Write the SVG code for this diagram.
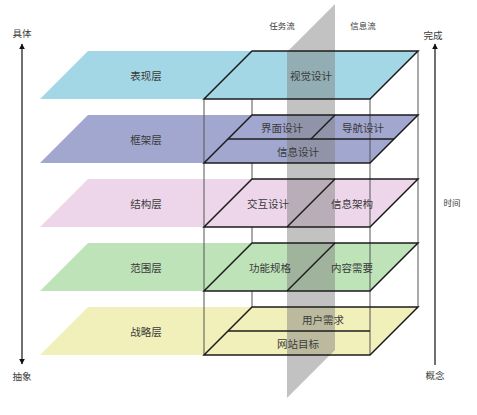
<svg xmlns="http://www.w3.org/2000/svg" width="477" height="415" viewBox="0 0 477 415">
<style>
text{font-family:"Noto Sans CJK SC","Noto Sans",sans-serif;fill:#3a3a3a;text-anchor:middle;dominant-baseline:central;font-size:10.5px}
.sm{font-size:8.5px}
.ax{font-size:9.5px}
.frame{fill:none;stroke:#1c1c1c;stroke-width:1.5;stroke-linejoin:miter}
.edge{stroke:#555;stroke-width:1;fill:none}
.axis{stroke:#111;stroke-width:1.2;fill:none}
</style>
<defs>
<marker id="ah" viewBox="0 0 10 10" refX="9" refY="5" markerWidth="5" markerHeight="5" orient="auto-start-reverse" markerUnits="strokeWidth">
<path d="M0,0 L10,5 L0,10 z" fill="#111"/>
</marker>
</defs>
<rect width="477" height="415" fill="#fff"/>
<g id="back-edges">
<line class="edge" x1="252" y1="51" x2="252" y2="307"/>
<line class="edge" x1="418" y1="51" x2="418" y2="307"/>
</g>
<g id="layer-fills">
<polygon points="40,99 88,51 418,51 370,99" fill="#a3d7e5"/>
<polygon points="40,163 88,115 418,115 370,163" fill="#a2a7cf"/>
<polygon points="40,227 88,179 418,179 370,227" fill="#eed6ea"/>
<polygon points="40,291 88,243 418,243 370,291" fill="#bee3b9"/>
<polygon points="40,355 88,307 418,307 370,355" fill="#f2f0ba"/>
</g>
<g id="plane">
<polygon points="335,4 335,350 287,398 287,52" fill="#808080" fill-opacity="0.48"/>
</g>
<g id="connectors">
<line class="edge" x1="204" y1="99" x2="204" y2="355"/>
<line class="edge" x1="370" y1="99" x2="370" y2="355"/>
<line class="axis" x1="22" y1="44" x2="22" y2="364" marker-start="url(#ah)" marker-end="url(#ah)"/>
<line class="axis" x1="435" y1="365" x2="435" y2="44" marker-end="url(#ah)"/>
</g>
<g id="layer-biaoxian">
<text x="146" y="75">表现层</text>
<polygon class="frame" points="204,99 252,51 418,51 370,99"/>
<text x="311" y="75">视觉设计</text>
</g>
<g id="layer-kuangjia">
<text x="146" y="139">框架层</text>
<polygon class="frame" points="204,163 252,115 418,115 370,163"/>
<line class="frame" x1="228" y1="139" x2="394" y2="139"/>
<line class="frame" x1="335" y1="115" x2="311" y2="139"/>
<text x="282" y="127">界面设计</text>
<text x="363" y="127">导航设计</text>
<text x="298" y="151">信息设计</text>
</g>
<g id="layer-jiegou">
<text x="146" y="203">结构层</text>
<polygon class="frame" points="204,227 252,179 418,179 370,227"/>
<line class="frame" x1="335" y1="179" x2="287" y2="227"/>
<text x="268" y="203">交互设计</text>
<text x="352" y="203">信息架构</text>
</g>
<g id="layer-fanwei">
<text x="146" y="267">范围层</text>
<polygon class="frame" points="204,291 252,243 418,243 370,291"/>
<line class="frame" x1="335" y1="243" x2="287" y2="291"/>
<text x="270" y="267">功能规格</text>
<text x="352" y="267">内容需要</text>
</g>
<g id="layer-zhanlve">
<text x="146" y="331">战略层</text>
<polygon class="frame" points="204,355 252,307 418,307 370,355"/>
<line class="frame" x1="228" y1="331" x2="370" y2="331"/>
<text x="323" y="319">用户需求</text>
<text x="298" y="343">网站目标</text>
</g>
<g id="labels">
<text class="sm" x="282" y="25">任务流</text>
<text class="sm" x="363" y="25">信息流</text>
<text class="ax" x="22" y="33">具体</text>
<text class="ax" x="22" y="376">抽象</text>
<text class="ax" x="433" y="35">完成</text>
<text class="ax" x="435" y="375">概念</text>
<text class="sm" x="452" y="202">时间</text>
</g>
</svg>
